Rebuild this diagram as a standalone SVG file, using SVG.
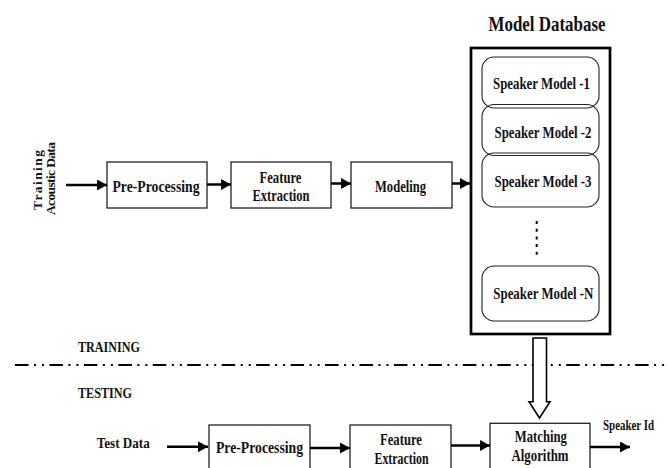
<svg xmlns="http://www.w3.org/2000/svg" width="667" height="468" viewBox="0 0 667 468">
<defs>
<style>
text{font-family:"Liberation Serif","Times New Roman",serif;font-weight:bold;fill:#111;}
.lbl{font-size:17px;text-anchor:middle;}
.sm{font-size:16px;text-anchor:middle;}
.box{fill:#fff;stroke:#222;stroke-width:1.3;}
.mdl{fill:none;stroke:#222;stroke-width:1.1;}
.con{stroke:#000;stroke-width:2.5;fill:none;}
</style>
<marker id="ah" markerUnits="userSpaceOnUse" markerWidth="10" markerHeight="11" refX="10" refY="5.5" orient="auto">
<path d="M0,0 L10,5.5 L0,11 z" fill="#000"/>
</marker>
</defs>
<rect width="667" height="468" fill="#fff"/>

<g id="training-input">
<text transform="translate(41.5,180) rotate(-90)" style="font-size:13.5px;text-anchor:middle" textLength="60" lengthAdjust="spacing">Training</text>
<text transform="translate(55,178.5) rotate(-90)" style="font-size:13.5px;text-anchor:middle" textLength="73" lengthAdjust="spacing">Acoustic Data</text>
</g>

<g id="pre-processing-train">
<rect class="box" x="107" y="162" width="100" height="46"/>
<text class="lbl" x="156" y="191.5" textLength="87" lengthAdjust="spacingAndGlyphs">Pre-Processing</text>
</g>

<g id="feature-extraction-train">
<rect class="box" x="231" y="162" width="100" height="46"/>
<text class="lbl" x="280.5" y="182.5" textLength="42" lengthAdjust="spacingAndGlyphs">Feature</text>
<text class="lbl" x="281" y="201" textLength="57" lengthAdjust="spacingAndGlyphs">Extraction</text>
</g>

<g id="modeling">
<rect class="box" x="351" y="162" width="101" height="46"/>
<text class="lbl" x="400.5" y="191.5" textLength="51" lengthAdjust="spacingAndGlyphs">Modeling</text>
</g>

<g id="model-database">
<text x="547" y="31" style="font-size:21px;text-anchor:middle" textLength="117" lengthAdjust="spacingAndGlyphs">Model Database</text>
<rect x="471" y="48" width="139" height="286" fill="#fff" stroke="#000" stroke-width="2.7"/>
</g>

<g id="speaker-model-1">
<rect class="mdl" x="482" y="57" width="117" height="51" rx="12"/>
<text class="sm" x="541.5" y="89.3" textLength="97" lengthAdjust="spacingAndGlyphs">Speaker Model -1</text>
</g>
<g id="speaker-model-2">
<rect class="mdl" x="482" y="104.5" width="117" height="51" rx="12"/>
<text class="sm" x="543" y="138.3" textLength="97" lengthAdjust="spacingAndGlyphs">Speaker Model -2</text>
</g>
<g id="speaker-model-3">
<rect class="mdl" x="482" y="153" width="117" height="54" rx="12"/>
<text class="sm" x="543" y="186.7" textLength="97" lengthAdjust="spacingAndGlyphs">Speaker Model -3</text>
</g>
<g id="ellipsis">
<line x1="536.7" y1="221" x2="536.7" y2="256" stroke="#000" stroke-width="2" stroke-dasharray="3 4.7"/>
</g>
<g id="speaker-model-n">
<rect class="mdl" x="482" y="266" width="117" height="55" rx="12"/>
<text class="sm" x="543.3" y="299.3" textLength="100" lengthAdjust="spacingAndGlyphs">Speaker Model -N</text>
</g>

<g id="separator">
<line x1="15" y1="365" x2="667" y2="365" stroke="#000" stroke-width="2" stroke-dasharray="13.5 5.5 2 6 2 5.45"/>
<text x="78" y="351.7" style="font-size:14px" textLength="62" lengthAdjust="spacingAndGlyphs">TRAINING</text>
<text x="78" y="398.3" style="font-size:14px" textLength="54" lengthAdjust="spacingAndGlyphs">TESTING</text>
</g>

<g id="test-data">
<text x="96.7" y="448" style="font-size:15px" textLength="53" lengthAdjust="spacingAndGlyphs">Test Data</text>
</g>

<g id="pre-processing-test">
<rect class="box" x="209" y="425" width="101" height="55"/>
<text class="lbl" x="259.5" y="453.3" textLength="87" lengthAdjust="spacingAndGlyphs">Pre-Processing</text>
</g>

<g id="feature-extraction-test">
<rect class="box" x="350" y="425" width="101" height="55"/>
<text class="lbl" x="401" y="445" textLength="42" lengthAdjust="spacingAndGlyphs">Feature</text>
<text class="lbl" x="401.5" y="464.3" textLength="54" lengthAdjust="spacingAndGlyphs">Extraction</text>
</g>

<g id="matching-algorithm">
<rect class="box" x="490" y="423.3" width="100" height="56"/>
<text class="lbl" x="540.8" y="442" textLength="52" lengthAdjust="spacingAndGlyphs">Matching</text>
<text class="lbl" x="540" y="460.5" textLength="57" lengthAdjust="spacingAndGlyphs">Algorithm</text>
</g>

<g id="speaker-id">
<text x="603" y="430" style="font-size:15px" textLength="51" lengthAdjust="spacingAndGlyphs">Speaker Id</text>
</g>

<g id="connectors">
<line class="con" x1="66" y1="185" x2="107" y2="185" marker-end="url(#ah)"/>
<line class="con" x1="207" y1="184.5" x2="231" y2="184.5" marker-end="url(#ah)"/>
<line class="con" x1="331" y1="183.5" x2="351" y2="183.5" marker-end="url(#ah)"/>
<line class="con" x1="452" y1="183.5" x2="470" y2="183.5" marker-end="url(#ah)"/>
<path d="M533,338 L533,401.7 L529,401.7 L539.5,418 L550,401.7 L546.5,401.7 L546.5,338 Z" fill="#fff" stroke="#000" stroke-width="1.6" stroke-linejoin="miter"/>
<line class="con" x1="167" y1="446.7" x2="208" y2="446.7" marker-end="url(#ah)"/>
<line class="con" x1="310" y1="448" x2="350" y2="448" marker-end="url(#ah)"/>
<line class="con" x1="451" y1="445.5" x2="490" y2="445.5" marker-end="url(#ah)"/>
<line class="con" x1="590" y1="447" x2="630" y2="447" marker-end="url(#ah)"/>
</g>
</svg>
